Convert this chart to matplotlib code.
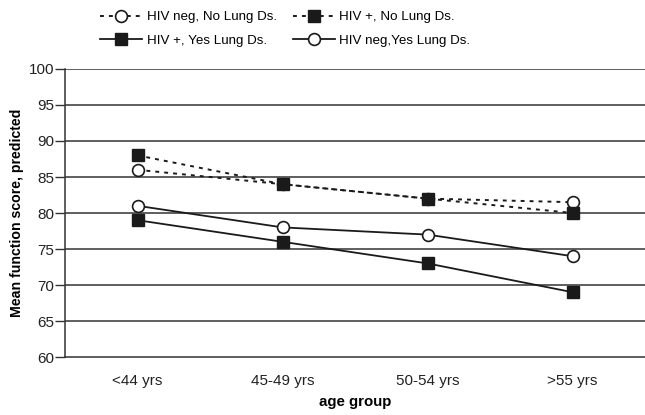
import matplotlib
matplotlib.use("Agg")
import matplotlib.pyplot as plt

plt.rcParams['font.family'] = ['Liberation Sans', 'DejaVu Sans']

categories = ["<44 yrs", "45-49 yrs", "50-54 yrs", ">55 yrs"]
hiv_neg_no_lung = [86, 84, 82, 81.5]
hiv_pos_no_lung = [88, 84, 82, 80]
hiv_pos_yes_lung = [79, 76, 73, 69]
hiv_neg_yes_lung = [81, 78, 77, 74]
yticks = [60, 65, 70, 75, 80, 85, 90, 95, 100]

fig = plt.figure(figsize=(6.45, 4.15), dpi=100)
ax = fig.add_axes([65/645, 58/415, 580/645, 288/415])

x = list(range(len(categories)))
dot = (0, (2, 2.6))
lc = '#1a1a1a'
ms = 8.5

ax.plot(x, hiv_neg_no_lung, linestyle=dot, color=lc, lw=1.4, marker='o', ms=ms,
        mfc='white', mec=lc, mew=1.2, label='HIV neg, No Lung Ds.', zorder=3)
ax.plot(x, hiv_pos_no_lung, linestyle=dot, color=lc, lw=1.4, marker='s', ms=ms,
        mfc=lc, mec=lc, mew=1.0, label='HIV +, No Lung Ds.', zorder=3)
ax.plot(x, hiv_pos_yes_lung, linestyle='-', color=lc, lw=1.3, marker='s', ms=ms,
        mfc=lc, mec=lc, mew=1.0, label='HIV +, Yes Lung Ds.', zorder=3)
ax.plot(x, hiv_neg_yes_lung, linestyle='-', color=lc, lw=1.3, marker='o', ms=ms,
        mfc='white', mec=lc, mew=1.2, label='HIV neg,Yes Lung Ds.', zorder=3)

ax.set_xlim(-0.5, len(categories) - 0.5)
ax.set_ylim(60, 100)
ax.set_yticks(yticks)
ax.set_yticklabels([str(v) for v in yticks], fontsize=11, color='#222222')
ax.set_xticks(x)
ax.set_xticklabels(categories, fontsize=11, color='#222222')
ax.tick_params(axis='x', length=0, pad=12)
ax.tick_params(axis='y', length=7, width=1, color='#333333', pad=1)

for v in yticks[1:]:
    ax.axhline(v, color='#333333', lw=1.1, zorder=1)

for s in ['top', 'right']:
    ax.spines[s].set_visible(False)
ax.spines['left'].set_color('#333333')
ax.spines['bottom'].set_color('#333333')
ax.spines['left'].set_linewidth(1.1)
ax.spines['bottom'].set_linewidth(1.1)

ax.set_ylabel('Mean function score, predicted', fontsize=10.2, fontweight='bold', labelpad=3)
ax.set_xlabel('age group', fontsize=10.8, fontweight='bold', labelpad=5)

h, l = ax.get_legend_handles_labels()
order = [0, 2, 1, 3]
leg = fig.legend([h[i] for i in order], [l[i] for i in order], ncol=2,
                 loc='upper left', bbox_to_anchor=(100/645, 1 - 11/415), frameon=False,
                 fontsize=9.6, handlelength=3.15, handletextpad=0.35, columnspacing=1.2,
                 labelspacing=0.85, borderpad=0, borderaxespad=0)

fig.savefig('out.png', dpi=100)
